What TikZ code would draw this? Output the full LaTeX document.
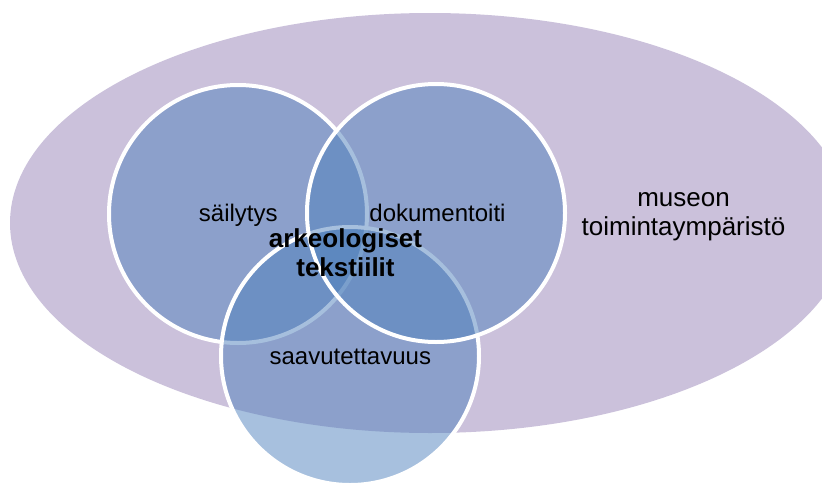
\documentclass[tikz,border=0pt]{standalone}
\usepackage{fontspec}
\setmainfont{Liberation Sans}
\usetikzlibrary{shapes.geometric}
\definecolor{lav}{RGB}{203,193,219}
\definecolor{accblue}{RGB}{79,129,189}
\begin{document}
\begin{tikzpicture}[x=1pt,y=-1pt,
  envbox/.style={ellipse, fill=lav, minimum width=840pt, minimum height=420pt, inner sep=0pt},
  venn/.style={circle, minimum size=258pt, inner sep=0pt, fill=accblue, fill opacity=0.5, draw=white, draw opacity=1, line width=4pt},
  lbl/.style={font=\fontsize{24}{29}\selectfont, anchor=base, inner sep=0pt, text=black},
  biglbl/.style={font=\fontsize{26}{29}\selectfont, anchor=base, inner sep=0pt, align=center, text=black}]
\useasboundingbox (0,0) rectangle (822,482);
\clip (0,0) rectangle (822,482);
\node[envbox] (env) at (430,223) {};
\node[venn] (keep) at (238,214) {};
\node[venn] (access) at (350,356) {};
\node[venn] (docu) at (436,213) {};
\node[lbl] (tkeep) at (238.3,221) {säilytys};
\node[lbl] (tdocu) at (437.5,221) {dokumentoiti};
\node[lbl] (taccess) at (350.3,364.3) {saavutettavuus};
\node[biglbl, font=\fontsize{26}{29}\selectfont\bfseries] (tcore) at (345.5,276.7) {arkeologiset\\tekstiilit};
\node[biglbl] (tenv) at (683.5,235) {museon\\toimintaympäristö};
\end{tikzpicture}
\end{document}
